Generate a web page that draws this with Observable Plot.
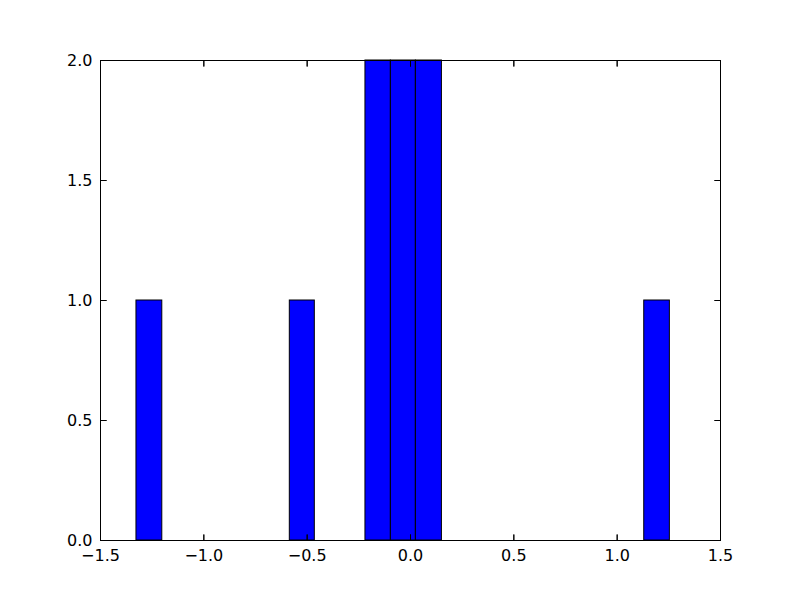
<!DOCTYPE html>
<html>
<head>
<meta charset="utf-8">
<script src="https://cdn.jsdelivr.net/npm/d3@7"></script>
<script src="https://cdn.jsdelivr.net/npm/@observablehq/plot@0.6"></script>
<style>
  html, body { margin: 0; padding: 0; background: #fff; }
  #chart svg { display: block; }
</style>
</head>
<body>
<div id="chart"></div>
<script>
// Histogram bins
const binStart = [-1.326, -0.584, -0.218, -0.095, 0.026, 1.131];
const binEnd   = [-1.201, -0.463, -0.095, 0.026, 0.152, 1.255];
const counts   = [1, 1, 2, 2, 2, 1];

const xTicks = [-1.5, -1.0, -0.5, 0.0, 0.5, 1.0, 1.5];
const yTicks = [0.0, 0.5, 1.0, 1.5, 2.0];

const bins = binStart.map((s, i) => ({x1: s, x2: binEnd[i], count: counts[i]}));
const fmt = d => d.toFixed(1).replace("-", "\u2212");
const tickLen = 6;

const chart = Plot.plot({
  width: 800,
  height: 600,
  marginLeft: 100,
  marginRight: 80,
  marginTop: 60,
  marginBottom: 60,
  style: {fontFamily: "DejaVu Sans", fontSize: "16px", color: "black", background: "white"},
  x: {domain: [-1.5, 1.5]},
  y: {domain: [0, 2]},
  marks: [
    Plot.rectY(bins, {x1: "x1", x2: "x2", y1: 0, y2: "count", fill: "#0000ff", stroke: "black", strokeWidth: 1}),
    // inward ticks
    Plot.vector(xTicks, {x: d => d, frameAnchor: "bottom", rotate: 0, length: tickLen, anchor: "start", shape: "spike", stroke: "black", strokeWidth: 1, r: 0}),
    Plot.vector(xTicks, {x: d => d, frameAnchor: "top", rotate: 180, length: tickLen, anchor: "start", shape: "spike", stroke: "black", strokeWidth: 1, r: 0}),
    Plot.vector(yTicks, {y: d => d, frameAnchor: "left", rotate: 90, length: tickLen, anchor: "start", shape: "spike", stroke: "black", strokeWidth: 1, r: 0}),
    Plot.vector(yTicks, {y: d => d, frameAnchor: "right", rotate: -90, length: tickLen, anchor: "start", shape: "spike", stroke: "black", strokeWidth: 1, r: 0}),
    Plot.axisX({anchor: "bottom", ticks: xTicks, tickSize: 0, tickPadding: 9, tickFormat: fmt, label: null, fontSize: 16}),
    Plot.axisY({anchor: "left", ticks: yTicks, tickSize: 0, tickPadding: 8, tickFormat: fmt, label: null, fontSize: 16}),
    Plot.frame({stroke: "black", strokeWidth: 1})
  ]
});
document.getElementById("chart").appendChild(chart);
</script>
</body>
</html>
